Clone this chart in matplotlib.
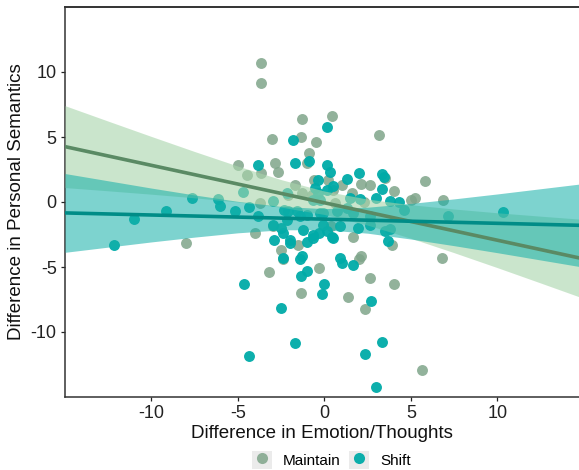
import matplotlib
matplotlib.use("Agg")
import matplotlib.pyplot as plt
from matplotlib.patches import Rectangle
from matplotlib.lines import Line2D
from matplotlib.legend_handler import HandlerTuple
import numpy as np

plt.rcParams['font.family'] = ['Liberation Sans', 'DejaVu Sans']

# ---- data ----
maintain_x = [-3.67, -3.67, -3.02, -5.02, -4.50, -2.86, -2.67, -3.67, -1.32, -1.34,
              -0.51, 0.45, 3.15, -0.88, -1.03, -1.69, -0.60, 1.00, 2.10, 2.66,
              5.81, 4.05, 5.25, 5.00, 6.83, 1.57, 0.18, 0.51, -0.74, 2.30,
              3.50, 1.67, 0.40, 6.81, 5.65, 2.63, 4.02, 1.34, 2.34, -1.38,
              -0.32, 2.13, 2.00, 3.88, -2.42, -2.49, -8.00, -3.19, -4.00, -1.53,
              -3.70, -2.96, -2.09, -1.32, 0.61]
maintain_y = [10.71, 9.16, 4.82, 2.86, 2.09, 2.99, 2.34, 2.22, 6.36, 4.98,
              4.64, 6.65, 5.13, 3.78, 2.99, 1.32, 1.71, 1.32, 1.42, 1.32,
              1.63, 0.85, 0.33, 0.18, 0.15, 0.69, 1.71, 0.94, 0.56, 0.00,
              1.84, -2.72, -1.87, -4.34, -12.92, -5.82, -6.33, -7.30, -8.25, -6.97,
              -5.11, -4.16, -4.42, -3.27, -4.37, -3.69, -3.19, -5.36, -2.36, -3.30,
              -0.07, -1.87, 0.56, 0.69, -0.08]

shift_x = [-7.68, -6.17, -6.04, -9.16, -11.01, -5.17, -4.35, -4.69, -3.83, -1.84,
           -1.71, -2.96, -3.83, -2.18, -2.33, -2.50, -2.90, -2.96, -12.17, -4.65,
           -2.49, -1.71, -4.35, -1.99, -2.42, -1.40, -1.37, -1.03, 3.34, 2.34,
           3.01, 2.67, -0.16, -0.03, 0.99, 1.67, 0.51, 3.69, -1.03, -0.65,
           -0.31, -1.23, 0.16, -0.88, 0.14, 0.32, 1.98, 3.32, 3.44, 1.30,
           -0.36, 0.51, 3.31, 1.47, 2.05, 2.97, 3.79, 4.34, 4.62, 7.16,
           10.34, -0.55, -0.36, -2.09, -1.42, -0.07, 0.71, 1.28, 3.50, 3.79,
           0.42, -0.65, -1.32, -2.38, -0.26, -1.61, -1.03, -2.18, -0.07, -0.65,
           0.13, 0.13, 0.90, 2.63, 1.96, 0.90, 2.63, 1.67, -0.26, -1.99]
shift_y = [0.31, 0.23, -0.34, -0.72, -1.28, -0.72, -0.36, 0.79, 2.83, 4.80,
           2.99, 0.05, -1.10, 0.69, -0.59, -2.00, -2.89, -1.74, -3.27, -6.33,
           -8.17, -10.87, -11.87, -3.17, -2.37, -4.36, -5.70, -5.31, -10.80, -11.69,
           -14.25, -7.61, -7.05, -6.28, -4.67, -4.85, -2.79, -2.98, -3.06, -2.76,
           -2.37, -2.18, 5.74, 3.14, 2.84, 2.32, 2.20, 2.15, 1.96, 1.76,
           1.71, 1.25, 0.97, 0.33, 0.23, 0.31, 0.05, -0.03, -0.64, -1.10,
           -0.80, 1.07, 0.69, -0.72, -1.10, -0.84, -0.72, -0.46, -2.25, -2.10,
           -2.68, -2.50, -4.16, -4.29, 0.18, -0.72, -0.97, -1.36, -1.74, 0.18,
           0.94, -2.25, -1.87, -1.74, -1.99, -4.29, -1.10, -0.84, -0.84, -2.89]

# fitted lines and 95% bands read at these x positions
band_x = [-15, -12.5, -10, -7.5, -5, -2.5, 0, 2.5, 5, 7.5, 10, 12.5, 15]
maintain_fit = [4.26, 3.54, 2.82, 2.10, 1.38, 0.66, -0.06, -0.78, -1.50, -2.22, -2.94, -3.66, -4.38]
maintain_hi = [7.41, 6.22, 5.04, 3.88, 2.76, 1.72, 0.84, 0.22, -0.21, -0.54, -0.83, -1.09, -1.34]
maintain_lo = [1.11, 0.86, 0.60, 0.32, 0.00, -0.40, -0.96, -1.78, -2.79, -3.90, -5.05, -6.23, -7.42]
shift_fit = [-0.84, -0.92, -1.00, -1.08, -1.16, -1.24, -1.32, -1.40, -1.48, -1.56, -1.64, -1.72, -1.80]
shift_hi = [2.19, 1.63, 1.07, 0.54, 0.05, -0.34, -0.51, -0.40, -0.11, 0.24, 0.62, 1.02, 1.42]
shift_lo = [-3.87, -3.47, -3.07, -2.70, -2.37, -2.14, -2.13, -2.40, -2.85, -3.36, -3.90, -4.46, -5.02]

groups = ["Maintain", "Shift"]
x_ticks = [-10, -5, 0, 5, 10]
y_ticks = [-10, -5, 0, 5, 10]

# ---- styling ----
pt_colors = {"Maintain": "#7fa58a", "Shift": "#00aba8"}
pt_alpha = {"Maintain": 0.85, "Shift": 0.95}
band_colors = {"Maintain": "#a8d5ab", "Shift": "#13afa8"}
band_alpha = {"Maintain": 0.6, "Shift": 0.55}
line_colors = {"Maintain": "#5a8a64", "Shift": "#008c87"}

fig = plt.figure(figsize=(5.79, 4.70), dpi=100)
ax = fig.add_axes([65 / 579, 1 - 397 / 470, 1 - 65 / 579, (397 - 7) / 470])

ax.scatter(maintain_x, maintain_y, s=62, color=pt_colors["Maintain"],
           alpha=pt_alpha["Maintain"], linewidths=0, zorder=2)
ax.scatter(shift_x, shift_y, s=62, color=pt_colors["Shift"],
           alpha=pt_alpha["Shift"], linewidths=0, zorder=2)

ax.fill_between(band_x, maintain_lo, maintain_hi, color=band_colors["Maintain"],
                alpha=band_alpha["Maintain"], linewidth=0, zorder=3)
ax.fill_between(band_x, shift_lo, shift_hi, color=band_colors["Shift"],
                alpha=band_alpha["Shift"], linewidth=0, zorder=3)
ax.plot(band_x, maintain_fit, color=line_colors["Maintain"], lw=2.6, zorder=4,
        solid_capstyle='butt')
ax.plot(band_x, shift_fit, color=line_colors["Shift"], lw=2.6, zorder=4,
        solid_capstyle='butt')

ax.set_xlim(-15, 14.72)
ax.set_ylim(-15, 15)
ax.set_xticks(x_ticks)
ax.set_yticks(y_ticks)
ax.set_xticklabels([str(v) for v in x_ticks])
ax.set_yticklabels([str(v) for v in y_ticks])
ax.tick_params(axis='both', labelsize=13, colors='#222222', length=3, width=0.9,
               direction='out', pad=3)

for side in ['left', 'bottom', 'top']:
    ax.spines[side].set_color('#333333')
    ax.spines[side].set_linewidth(1.1)
ax.spines['top'].set_linewidth(1.4)
ax.spines['right'].set_visible(False)

ax.set_xlabel("Difference in Emotion/Thoughts", fontsize=13.5, color='#111111', labelpad=2)
ax.set_ylabel("Difference in Personal Semantics", fontsize=13.5, color='#111111', labelpad=4)

# legend with grey key backgrounds
handles = []
for g in groups:
    bg = Rectangle((0, 0), 1, 1, facecolor='#ebebeb', edgecolor='none')
    mk = Line2D([], [], linestyle='none', marker='o', markersize=8,
                markerfacecolor=pt_colors[g], markeredgewidth=0,
                alpha=pt_alpha[g])
    handles.append((bg, mk))
fig.legend(handles, groups, handler_map={tuple: HandlerTuple(ndivide=1, pad=0)},
           loc='center', bbox_to_anchor=(0.572, 1 - 460 / 470), ncol=2, frameon=False,
           fontsize=11, handlelength=1.35, handleheight=1.35, handletextpad=0.7,
           columnspacing=0.5, borderpad=0.0)

fig.savefig("out.png", dpi=100)
